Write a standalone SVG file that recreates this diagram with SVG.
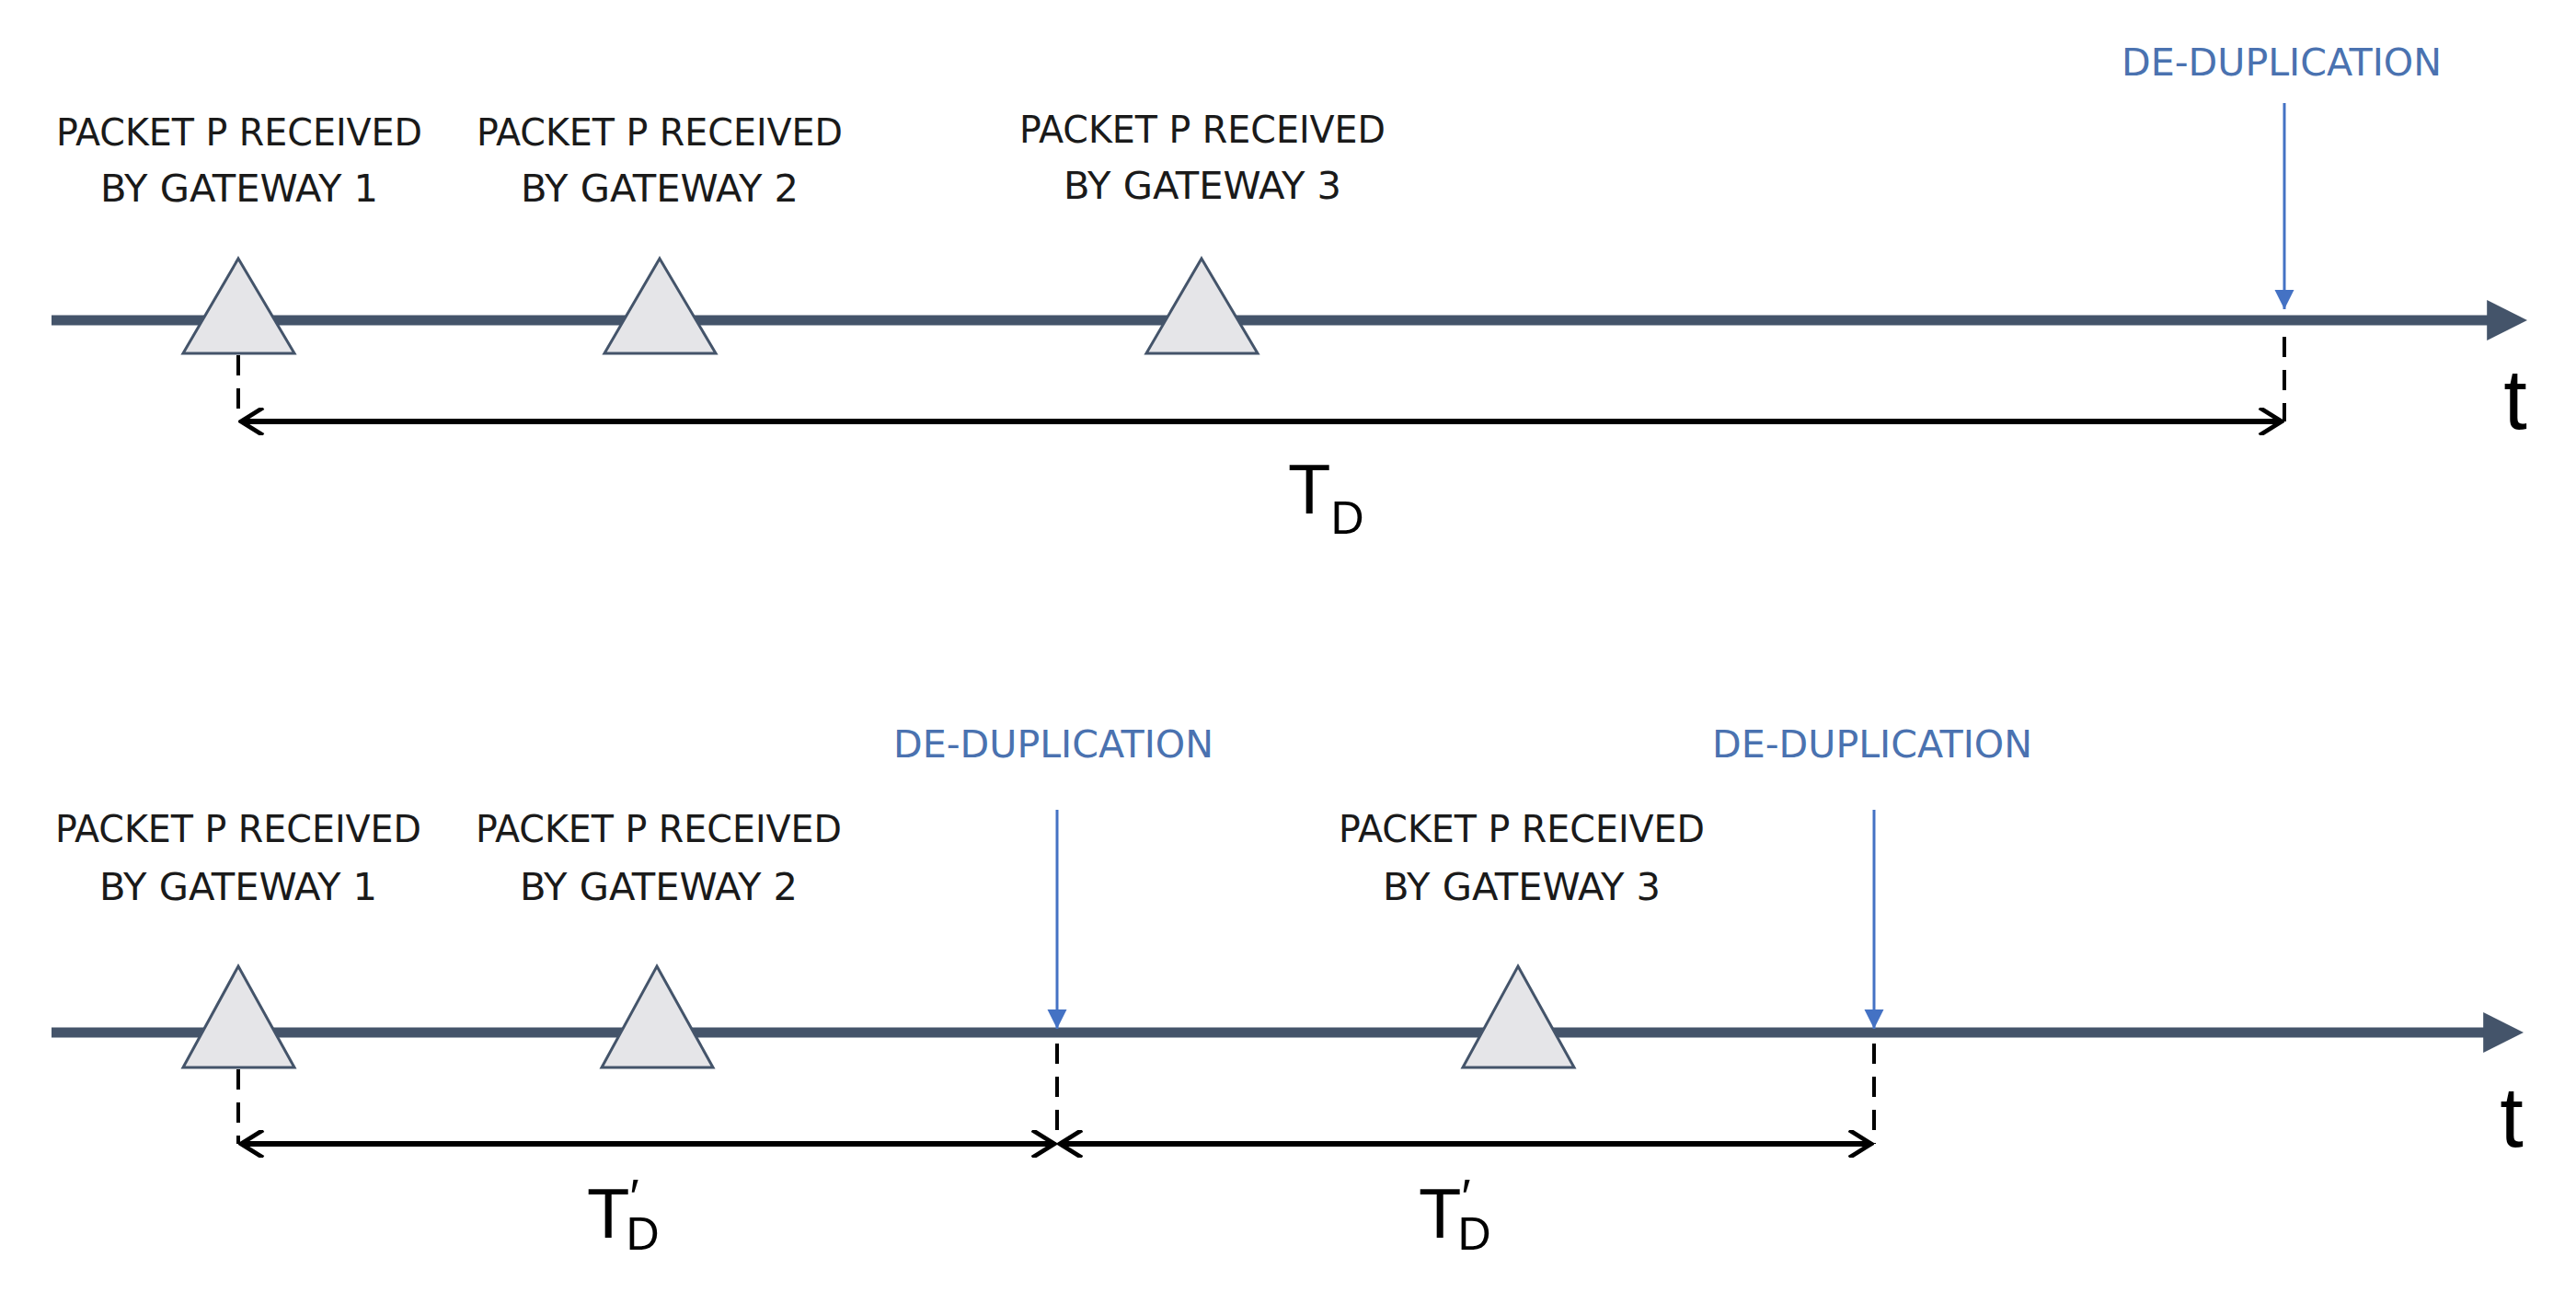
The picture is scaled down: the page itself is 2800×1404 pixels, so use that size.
<svg xmlns="http://www.w3.org/2000/svg" width="2800" height="1404" viewBox="0 0 2800 1404">
<style>
.lbl{font-family:"Liberation Sans Narrow","DejaVu Sans Condensed","Liberation Sans",sans-serif;font-size:40px;fill:#1a1a1a;text-anchor:middle}
.dd{font-family:"Liberation Sans Narrow","DejaVu Sans Condensed","Liberation Sans",sans-serif;font-size:40px;fill:#4a72b0;text-anchor:middle}
.axis{stroke:#44546A;stroke-width:11;fill:none}
.tri{fill:#E5E5E8;stroke:#44546A;stroke-width:3}
.dash{stroke:#000;stroke-width:4;stroke-dasharray:22,14;fill:none}
.dim{stroke:#000;stroke-width:6;fill:none}
.blue{stroke:#4472C4;stroke-width:3;fill:none}
.math{font-family:"Liberation Sans","DejaVu Sans",sans-serif;fill:#000}
</style>
<defs>
<marker id="axh" viewBox="0 0 10 10" refX="2" refY="5" markerWidth="4" markerHeight="4" orient="auto" markerUnits="strokeWidth"><path d="M0,0 L10,5 L0,10 z" fill="#44546A"/></marker>
<marker id="bh" viewBox="0 0 10 10" refX="10" refY="5" markerWidth="7" markerHeight="9" orient="auto" markerUnits="strokeWidth"><path d="M0,0 L10,5 L0,10 z" fill="#4472C4"/></marker>
<marker id="oh" viewBox="0 0 10 10" refX="9" refY="5" markerWidth="5" markerHeight="5" orient="auto-start-reverse" markerUnits="strokeWidth"><path d="M1,0 L9,5 L1,10" fill="none" stroke="#000" stroke-width="1.6"/></marker>
</defs>

<g id="timeline1">
<line class="axis" x1="56" y1="348" x2="2712" y2="348" marker-end="url(#axh)"/>
<text class="math" x="2734" y="466" font-size="92" text-anchor="middle">t</text>
</g>
<g id="rx1-g1"><polygon class="tri" points="259,281 320,384 199,384"/>
<text class="lbl" x="260" y="158" textLength="398" lengthAdjust="spacingAndGlyphs">PACKET P RECEIVED</text>
<text class="lbl" x="260" y="219" textLength="302" lengthAdjust="spacingAndGlyphs">BY GATEWAY 1</text></g>
<g id="rx1-g2"><polygon class="tri" points="717,281 778,384 657,384"/>
<text class="lbl" x="717" y="158" textLength="398" lengthAdjust="spacingAndGlyphs">PACKET P RECEIVED</text>
<text class="lbl" x="717" y="219" textLength="302" lengthAdjust="spacingAndGlyphs">BY GATEWAY 2</text></g>
<g id="rx1-g3"><polygon class="tri" points="1306,281 1367,384 1246,384"/>
<text class="lbl" x="1307" y="155" textLength="398" lengthAdjust="spacingAndGlyphs">PACKET P RECEIVED</text>
<text class="lbl" x="1307" y="216" textLength="302" lengthAdjust="spacingAndGlyphs">BY GATEWAY 3</text></g>
<g id="dedup1"><text class="dd" x="2480" y="82" textLength="348" lengthAdjust="spacingAndGlyphs">DE-DUPLICATION</text></g>
<g id="td1"><text class="math" x="1400" y="558" font-size="76">T<tspan font-size="50" dy="22">D</tspan></text></g>

<g id="timeline2">
<line class="axis" x1="56" y1="1122" x2="2708" y2="1122" marker-end="url(#axh)"/>
<text class="math" x="2730" y="1246" font-size="92" text-anchor="middle">t</text>
</g>
<g id="rx2-g1"><polygon class="tri" points="259,1050 320,1160 199,1160"/>
<text class="lbl" x="259" y="915" textLength="398" lengthAdjust="spacingAndGlyphs">PACKET P RECEIVED</text>
<text class="lbl" x="259" y="978" textLength="302" lengthAdjust="spacingAndGlyphs">BY GATEWAY 1</text></g>
<g id="rx2-g2"><polygon class="tri" points="714,1050 775,1160 654,1160"/>
<text class="lbl" x="716" y="915" textLength="398" lengthAdjust="spacingAndGlyphs">PACKET P RECEIVED</text>
<text class="lbl" x="716" y="978" textLength="302" lengthAdjust="spacingAndGlyphs">BY GATEWAY 2</text></g>
<g id="rx2-g3"><polygon class="tri" points="1650,1050 1711,1160 1590,1160"/>
<text class="lbl" x="1654" y="915" textLength="398" lengthAdjust="spacingAndGlyphs">PACKET P RECEIVED</text>
<text class="lbl" x="1654" y="978" textLength="302" lengthAdjust="spacingAndGlyphs">BY GATEWAY 3</text></g>
<g id="dedup2"><text class="dd" x="1145" y="823" textLength="348" lengthAdjust="spacingAndGlyphs">DE-DUPLICATION</text></g>
<g id="dedup3"><text class="dd" x="2035" y="823" textLength="348" lengthAdjust="spacingAndGlyphs">DE-DUPLICATION</text></g>
<g id="td2"><text class="math" x="638" y="1345" font-size="76">T<tspan font-size="54" dy="-26">′</tspan><tspan font-size="50" dx="-14" dy="39">D</tspan></text></g>
<g id="td3"><text class="math" x="1542" y="1345" font-size="76">T<tspan font-size="54" dy="-26">′</tspan><tspan font-size="50" dx="-14" dy="39">D</tspan></text></g>

<g id="connectors">
<line class="blue" x1="2483" y1="112" x2="2483" y2="336" marker-end="url(#bh)"/>
<line class="dash" x1="259" y1="386" x2="259" y2="458"/>
<line class="dash" x1="2483" y1="366" x2="2483" y2="458"/>
<line class="dim" x1="262" y1="458" x2="2480" y2="458" marker-start="url(#oh)" marker-end="url(#oh)"/>
<line class="blue" x1="1149" y1="880" x2="1149" y2="1118" marker-end="url(#bh)"/>
<line class="blue" x1="2037" y1="880" x2="2037" y2="1118" marker-end="url(#bh)"/>
<line class="dash" x1="259" y1="1162" x2="259" y2="1243"/>
<line class="dash" x1="1149" y1="1134" x2="1149" y2="1243"/>
<line class="dash" x1="2037" y1="1134" x2="2037" y2="1243"/>
<line class="dim" x1="262" y1="1243" x2="1146" y2="1243" marker-start="url(#oh)" marker-end="url(#oh)"/>
<line class="dim" x1="1152" y1="1243" x2="2034" y2="1243" marker-start="url(#oh)" marker-end="url(#oh)"/>
</g>
</svg>
